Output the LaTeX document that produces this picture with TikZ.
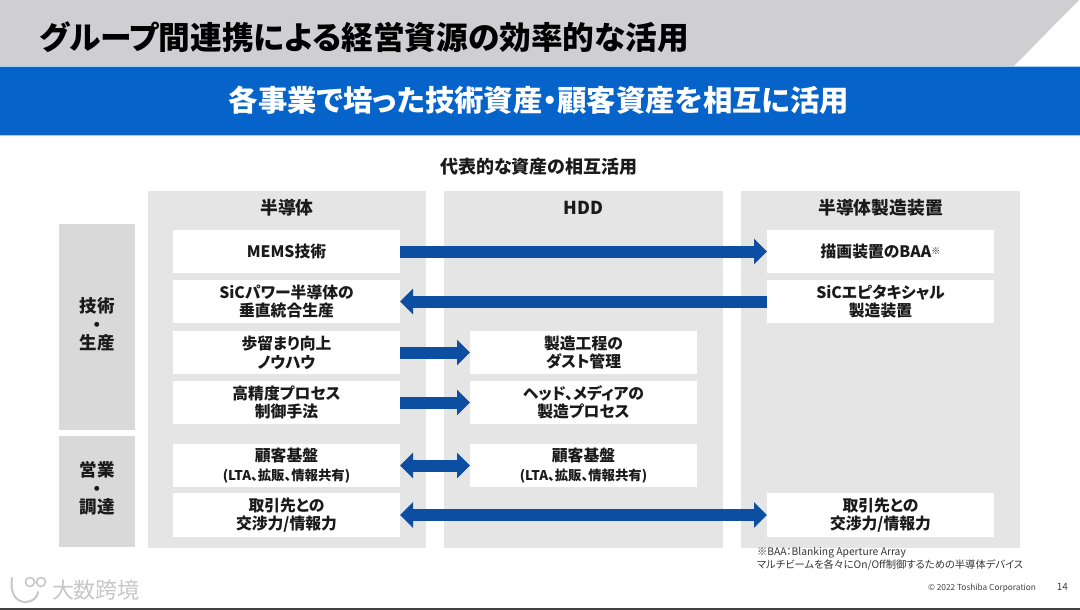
\documentclass[tikz,border=0pt]{standalone}
\usepackage{fontspec}
\setmainfont{Noto Sans CJK JP}[RawFeature=+palt]
\usetikzlibrary{arrows.meta}
\definecolor{hdr}{HTML}{CFCFD2}
\definecolor{band}{HTML}{0563C9}
\definecolor{bandedge}{HTML}{A8D0F5}
\definecolor{panel}{HTML}{E5E5E5}
\definecolor{side}{HTML}{D9D9D9}
\definecolor{arrowblue}{HTML}{0B4EA2}
\definecolor{ink}{HTML}{1A1A1A}
\tikzset{
  x=1pt,y=-1pt,
  every node/.style={inner sep=0pt,outer sep=0pt,font=\bfseries,text=ink,align=center},
  panelbox/.style={fill=panel,draw=none,minimum width=278.5pt,minimum height=357pt},
  sidebox/.style={fill=side,draw=none,minimum width=76pt},
  itembox/.style={fill=white,draw=none,minimum width=227pt,minimum height=43.5pt,font=\fontsize{15.8}{18.5}\selectfont\bfseries},
  colhead/.style={font=\fontsize{17.8}{20}\selectfont\bfseries},
  sidelabel/.style={font=\fontsize{17.5}{21.5}\selectfont\bfseries},
  link/.style={draw=arrowblue,line width=12pt,-{Triangle[width=25pt,length=13pt,fill=arrowblue]}},
  linkboth/.style={draw=arrowblue,line width=12pt,{Triangle[width=25pt,length=13pt,fill=arrowblue]}-{Triangle[width=25pt,length=13pt,fill=arrowblue]}},
}
\newcommand{\smalltxt}[1]{{\fontsize{13.4}{16}\selectfont #1}}
\begin{document}
\begin{tikzpicture}
\useasboundingbox (0,0) rectangle (1080,610);
\fill[white] (0,0) rectangle (1080,610);
% header
\fill[hdr] (0,0) -- (1079,0) -- (1013,67) -- (0,67) -- cycle;
\fill[band] (0,67) rectangle (1080,135);
\draw[bandedge,line width=1pt] (0,67) -- (1080,67);
\draw[bandedge,line width=1pt] (0,135.5) -- (1080,135.5);
\fill[black!75] (0,607.5) rectangle (1080,610);
\node[anchor=west,font=\fontsize{31.7}{34}\selectfont\bfseries,text=black] (title) at (40,37) {グループ間連携による経営資源の効率的な活用};
\node[font=\fontsize{29.4}{34}\selectfont\bfseries,text=white] (subtitle) at (539,100) {各事業で培った技術資産・顧客資産を相互に活用};
\node[font=\fontsize{18}{20}\selectfont\bfseries] (caption) at (539,167) {代表的な資産の相互活用};
% panels
\node[panelbox] (p1) at (287,369.5) {};
\node[panelbox] (p2) at (583.5,369.5) {};
\node[panelbox] (p3) at (880.5,369.5) {};
\node[colhead] (h1) at (287,208) {半導体};
\node[colhead] (h2) at (583.5,208) {HDD};
\node[colhead] (h3) at (880.5,208) {半導体製造装置};
% side
\node[sidebox,minimum height=206pt] (s1) at (97,327) {};
\node[sidebox,minimum height=111pt] (s2) at (97,491.5) {};
\node[sidelabel] (s1t) at (97,324.5) {技術\\[-3pt]・\\[-3pt]生産};
\node[sidelabel] (s2t) at (97,488.5) {営業\\[-3pt]・\\[-3pt]調達};
% items
\node[itembox] (a1) at (286.5,251.5) {MEMS技術};
\node[itembox] (a2) at (286.5,301.5) {SiCパワー半導体の\\垂直統合生産};
\node[itembox] (a3) at (286.5,352.5) {歩留まり向上\\ノウハウ};
\node[itembox] (a4) at (286.5,402.5) {高精度プロセス\\制御手法};
\node[itembox] (a5) at (286.5,465.5) {顧客基盤\\\smalltxt{(LTA、拡販、情報共有)}};
\node[itembox] (a6) at (286.5,515) {取引先との\\交渉力/情報力};
\node[itembox] (b3) at (583.5,352.5) {製造工程の\\ダスト管理};
\node[itembox] (b4) at (583.5,402.5) {ヘッド、メディアの\\製造プロセス};
\node[itembox] (b5) at (583.5,465.5) {顧客基盤\\\smalltxt{(LTA、拡販、情報共有)}};
\node[itembox] (c1) at (880.5,251.5) {描画装置のBAA{\fontsize{9}{10}\selectfont\raisebox{3pt}{※}}};
\node[itembox] (c2) at (880.5,301.5) {SiCエピタキシャル\\製造装置};
\node[itembox] (c6) at (880.5,515) {取引先との\\交渉力/情報力};
% connectors
\draw[link] (a1.east) -- (c1.west);
\draw[link] (c2.west) -- (a2.east);
\draw[link] (a3.east) -- (b3.west);
\draw[link] (a4.east) -- (b4.west);
\draw[linkboth] (a5.east) -- (b5.west);
\draw[linkboth] (a6.east) -- (c6.west);
% notes
\node[anchor=north west,align=left,font=\fontsize{10.3}{13}\selectfont,text=black!80] (note) at (757,547.5) {※BAA：Blanking Aperture Array\\マルチビームを各々にOn/Off制御するための半導体デバイス};
\node[anchor=east,font=\fontsize{8.3}{9}\selectfont,text=black!75] (copy) at (1036,588) {© 2022 Toshiba Corporation};
\node[anchor=east,font=\fontsize{10}{11}\selectfont,text=black!75] (page) at (1068,587) {14};
% watermark
\node[anchor=west,font=\fontsize{22}{24}\selectfont,text=black!22] (wm) at (52,590) {大数跨境};
\draw[black!22,line width=2pt,line cap=round] (12,578) .. controls (10,590) and (14,601) .. (24,602) .. controls (34,602) and (38,596) .. (38,592);
\draw[black!22,line width=1.6pt] (30,582) circle (4.5pt) (41,582) circle (4.5pt);
\end{tikzpicture}
\end{document}
